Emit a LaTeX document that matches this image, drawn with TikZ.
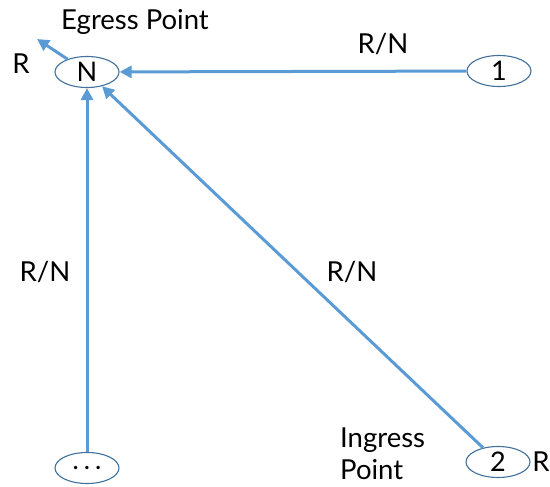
\documentclass[tikz,border=0pt]{standalone}
\usepackage{fontspec}
\setmainfont{Lato}
\usetikzlibrary{shapes.geometric,arrows.meta}
\definecolor{linkblue}{HTML}{5B9BD5}
\definecolor{rimblue}{HTML}{41719C}
\tikzset{
  router/.style={ellipse,draw=rimblue,line width=1.1pt,minimum width=64pt,minimum height=31pt,inner sep=0pt,font=\fontsize{27}{29}\selectfont},
  lbl/.style={font=\fontsize{27.5}{32}\selectfont,inner sep=0pt},
  arr/.style={draw=linkblue,line width=3pt,-{Triangle[length=12pt,width=12pt]}}
}
\begin{document}
\begin{tikzpicture}[x=1pt,y=-1pt]
\useasboundingbox (0,0) rectangle (550,487);
\node[router] (N) at (87,72) {N};
\node[router] (one) at (499,71) {1};
\node[router] (dots) at (87,468) {\fontsize{22}{24}\selectfont\textbf{.}\hspace{6pt}\textbf{.}\hspace{6pt}\textbf{.}};
\node[router] (two) at (498,462) {2};
\coordinate (eg) at (37,39);
\node[lbl] (egress) at (135,22) {Egress Point};
\node[lbl] (rN) at (21,64) {R};
\node[lbl] (r2) at (541,462) {R};
\node[lbl,align=left,anchor=west] (ingress) at (340,454) {Ingress\\Point};
\node[lbl] (rn1) at (383,44) {R/N};
\node[lbl] (rn2) at (45,272) {R/N};
\node[lbl] (rn3) at (352,272) {R/N};
\draw[arr] (N) -- (eg);
\draw[arr] (one) -- (N);
\draw[arr] (dots) -- (N);
\draw[arr] (two) -- (N);
\end{tikzpicture}
\end{document}
